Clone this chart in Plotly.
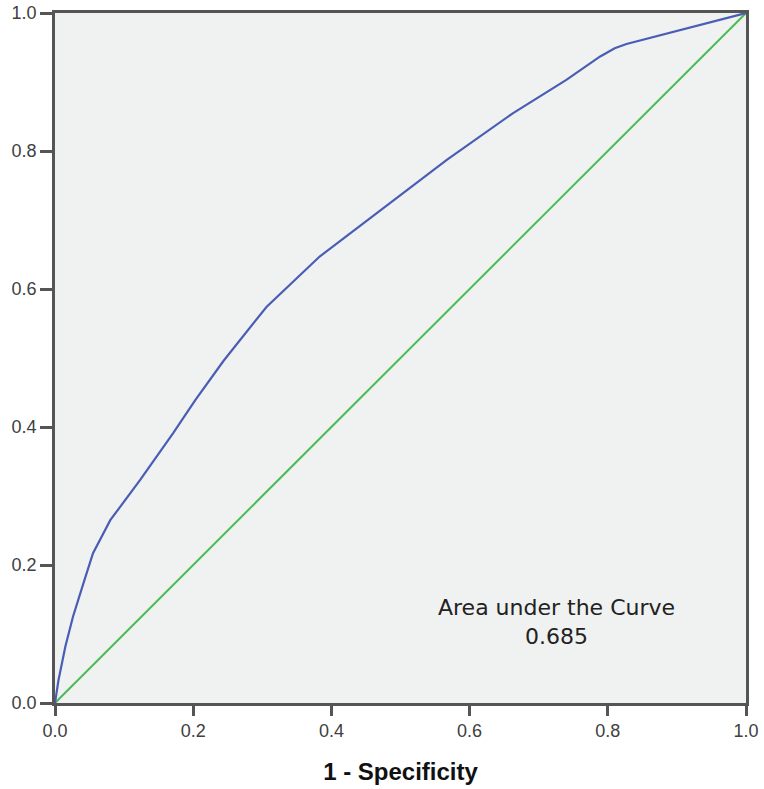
import plotly.graph_objects as go

# ROC curve (1 - specificity, sensitivity)
fpr = [0.0, 0.005, 0.015, 0.026, 0.041, 0.055, 0.080, 0.123, 0.171, 0.203, 0.244,
       0.306, 0.383, 0.446, 0.499, 0.567, 0.663, 0.740, 0.789, 0.810, 0.827, 1.0]
tpr = [0.0, 0.033, 0.082, 0.125, 0.173, 0.217, 0.265, 0.323, 0.391, 0.439, 0.496,
       0.574, 0.647, 0.695, 0.736, 0.787, 0.855, 0.903, 0.937, 0.949, 0.955, 1.0]

# Reference line
ref_x = [0.0, 1.0]
ref_y = [0.0, 1.0]

tick_vals = [0.0, 0.2, 0.4, 0.6, 0.8, 1.0]
tick_text = ["0.0", "0.2", "0.4", "0.6", "0.8", "1.0"]

auc_label = "Area under the Curve"
auc_value = 0.685

fig = go.Figure()
fig.add_trace(go.Scatter(x=ref_x, y=ref_y, mode="lines",
                         line=dict(color="#4cbb55", width=2), showlegend=False))
fig.add_trace(go.Scatter(x=fpr, y=tpr, mode="lines",
                         line=dict(color="#4a5db5", width=2.2),
                         showlegend=False))

fig.add_annotation(x=0.726, y=0.1167, xref="x", yref="y",
                   text=f"{auc_label}<br>{auc_value:.3f}", showarrow=False,
                   font=dict(family="DejaVu Sans", size=22, color="#222222"),
                   align="center")

axis_common = dict(
    range=[0, 1], tickmode="array", tickvals=tick_vals, ticktext=tick_text,
    showgrid=False, zeroline=False, showline=True, mirror=True, automargin=False,
    linecolor="#555555", linewidth=2.5, ticks="outside", tickcolor="#555555",
    tickwidth=2.5, tickfont=dict(family="Liberation Sans", size=18, color="#404040"),
)

fig.update_layout(
    width=764, height=789,
    margin=dict(l=55, r=18, t=13, b=86),
    paper_bgcolor="white", plot_bgcolor="#f0f1f1",
    xaxis=dict(**axis_common, ticklen=10,
               title=dict(text="<b>1 - Specificity</b>", standoff=23,
                          font=dict(family="Liberation Sans", size=24, color="#111111"))),
    yaxis=dict(**axis_common, ticklen=12),
)

# remove the default page margin so the figure sits at the window's corner
fig.write_html("out.html", post_script="document.body.style.margin='0';",
               config={"displayModeBar": False})
